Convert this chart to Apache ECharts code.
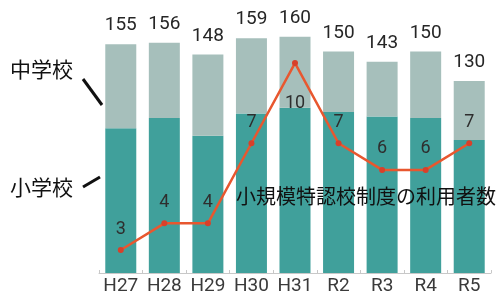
<!DOCTYPE html>
<html>
<head>
<meta charset="utf-8">
<script src="https://cdn.jsdelivr.net/npm/echarts@6/dist/echarts.min.js"></script>
<style>
  html,body{margin:0;padding:0;background:#fff;}
  #chart{width:504px;height:299px;}
</style>
</head>
<body>
<div id="chart"></div>
<script>
(function(){
  // ===== データ =====
  const years = ['H27','H28','H29','H30','H31','R2','R3','R4','R5'];
  const shogakko = [98,105,93,108,112,109,106,105,90];   // 小学校
  const chugakko = [57,51,55,51,48,41,37,45,40];          // 中学校
  const riyosha = [3,4,4,7,10,7,6,6,7];                   // 小規模特認校制度の利用者数

  const NUM_FONT = 'Roboto,sans-serif';
  const JP_FONT = '"Noto Sans CJK JP",sans-serif';

  const chart = echarts.init(document.getElementById('chart'), null, {renderer:'canvas'});

  const lineData = riyosha.map((v,i)=> i===4
    ? {value:v, label:{position:'bottom', distance:28}}
    : v);

  chart.setOption({
    animation:false,
    grid:{left:99, right:13, top:22, bottom:26},
    xAxis:{
      type:'category', data:years,
      axisLine:{lineStyle:{color:'#c8c8c8', width:1}},
      axisTick:{show:true, inside:true, length:3, lineStyle:{color:'#c8c8c8'}},
      axisLabel:{interval:0, color:'#3a3a3a', fontSize:19, fontFamily:NUM_FONT, margin:4}
    },
    yAxis:[
      {type:'value', min:0, max:170, show:false},
      {type:'value', min:2.14, max:11.54, show:false}
    ],
    series:[
      {name:'小学校', type:'bar', stack:'a', data:shogakko, barWidth:31,
        itemStyle:{color:'#40a09b'}},
      {name:'中学校', type:'bar', stack:'a', data:chugakko, barWidth:31,
        itemStyle:{color:'#a6bfbb'},
        label:{show:true, position:'top', distance:9, color:'#262626',
          fontSize:19, fontFamily:NUM_FONT,
          formatter:p=> String(shogakko[p.dataIndex]+chugakko[p.dataIndex])}},
      {name:'利用者数', type:'line', yAxisIndex:1, data:lineData, z:5,
        symbol:'circle', symbolSize:6,
        lineStyle:{color:'#e8572f', width:2.5},
        itemStyle:{color:'#d8402a'},
        label:{show:true, position:'top', distance:9, color:'#2e2e2e',
          fontSize:18, fontFamily:NUM_FONT}}
    ],
    graphic:[
      {type:'text', left:10, top:59, style:{text:'中学校', font:'21px '+JP_FONT, fill:'#111'}},
      {type:'line', shape:{x1:83, y1:79, x2:102, y2:105}, style:{stroke:'#111', lineWidth:3}},
      {type:'text', left:10, top:177, style:{text:'小学校', font:'21px '+JP_FONT, fill:'#111'}},
      {type:'line', shape:{x1:83, y1:187, x2:100, y2:177}, style:{stroke:'#111', lineWidth:3}},
      {type:'text', left:236, top:186, z:10, style:{text:'小規模特認校制度の利用者数', font:'20px '+JP_FONT, fill:'#111'}}
    ]
  });
})();
</script>
</body>
</html>
